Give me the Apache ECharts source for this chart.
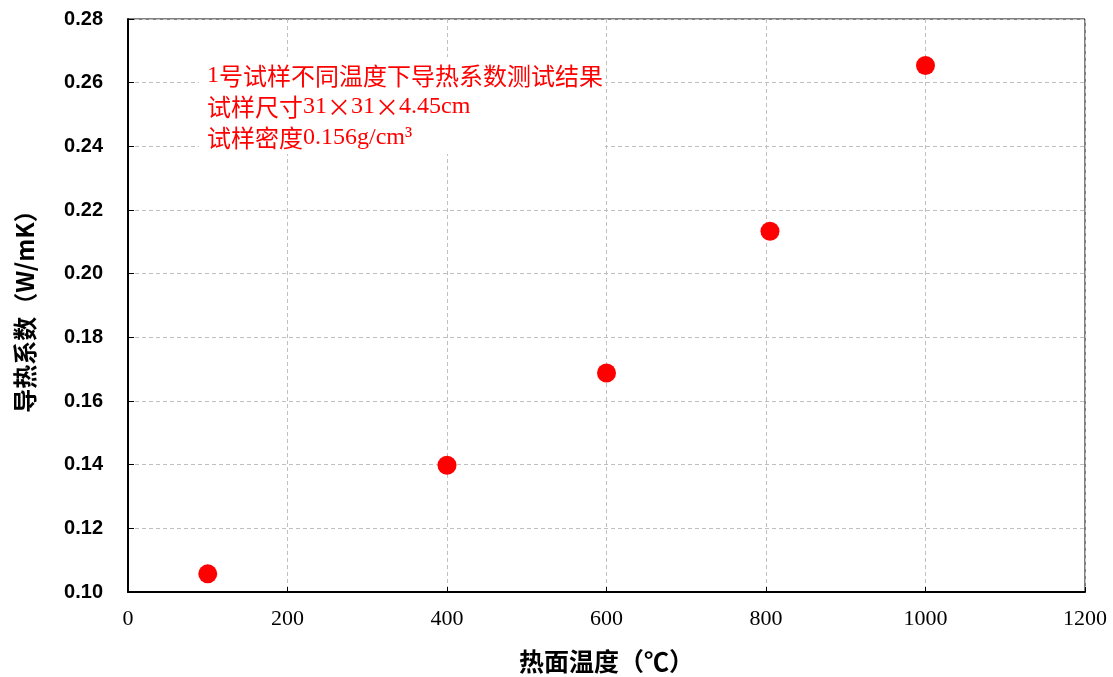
<!DOCTYPE html>
<html><head><meta charset="utf-8">
<script src="https://cdn.jsdelivr.net/npm/echarts@6/dist/echarts.min.js"></script>
<style>html,body{margin:0;padding:0;background:#fff}#c{width:1113px;height:677px}</style>
</head><body><div id="c"></div>
<script>
const temps = [100, 400, 600, 805, 1000];
const conductivity = [0.1057, 0.1398, 0.1688, 0.2133, 0.2654];
const xTitle = '热面温度（℃）';
const yTitle = '导热系数（W/mK）';
const noteLines = ['1号试样不同温度下导热系数测试结果', '试样尺寸31×31×4.45cm', '试样密度0.156g/cm³'];

function toRich(s) {
  let out = '', cur = '', curType = null;
  for (const ch of s) {
    const t = /[\x20-\x7e³]/.test(ch) ? 'a' : 'c';
    if (t !== curType && cur) { out += '{' + curType + '|' + cur + '}'; cur = ''; }
    curType = t; cur += ch;
  }
  if (cur) out += '{' + curType + '|' + cur + '}';
  return out;
}

const chart = echarts.init(document.getElementById('c'), null, {renderer: 'canvas'});
const serif = '"Liberation Serif","DejaVu Serif",serif';
const cjk = '"Noto Sans CJK SC",sans-serif';
chart.setOption({
  animation: false,
  backgroundColor: '#fff',
  grid: {left: 128, top: 19, right: 28, bottom: 85, containLabel: false, outerBoundsMode: 'none',
    show: true, borderColor: '#000', borderWidth: 1, backgroundColor: 'transparent'},
  xAxis: {
    type: 'value', min: 0, max: 1200, interval: 200,
    name: xTitle, nameLocation: 'middle', nameGap: 57,
    nameTextStyle: {fontFamily: cjk, fontWeight: 'bold', fontSize: 25, color: '#000'},
    axisLine: {show: true, lineStyle: {color: '#000', width: 2}},
    axisTick: {show: true, inside: true, length: 5, lineStyle: {color: '#000'}},
    axisLabel: {margin: 16, fontFamily: serif, fontSize: 22, color: '#000', formatter: v => String(v)},
    splitLine: {show: true, lineStyle: {color: '#c0c0c0', type: [4, 3], width: 1}}
  },
  yAxis: {
    type: 'value', min: 0.10, max: 0.28, interval: 0.02,
    name: yTitle, nameLocation: 'middle', nameGap: 91, nameRotate: 90,
    nameTextStyle: {fontFamily: cjk, fontWeight: 'bold', fontSize: 24, color: '#000'},
    axisLine: {show: true, lineStyle: {color: '#000', width: 2}},
    axisTick: {show: true, inside: true, length: 6, lineStyle: {color: '#000'}},
    axisLabel: {margin: 25, fontFamily: '"Liberation Sans",Arial,sans-serif', fontWeight: 'bold', fontSize: 20, color: '#000',
      formatter: v => v.toFixed(2)},
    splitLine: {show: true, lineStyle: {color: '#c0c0c0', type: [4, 3], width: 1}}
  },
  graphic: [
    {type: 'rect', left: 199, top: 57, shape: {width: 406, height: 97}, style: {fill: '#fff'}, z: 5},
    {type: 'text', left: 207, top: 64, z: 6, style: {
      text: noteLines.map(toRich).join('\n'),
      rich: {
        c: {fontFamily: cjk, fontSize: 24, fill: '#ff0000', lineHeight: 31},
        a: {fontFamily: serif, fontSize: 24, fill: '#ff0000', lineHeight: 31}
      }}}
  ],
  series: [{
    type: 'scatter', symbol: 'circle', symbolSize: 19,
    itemStyle: {color: '#ff0000', opacity: 1},
    data: temps.map((t, i) => [t, conductivity[i]]),
    z: 10
  }]
});
</script></body></html>
